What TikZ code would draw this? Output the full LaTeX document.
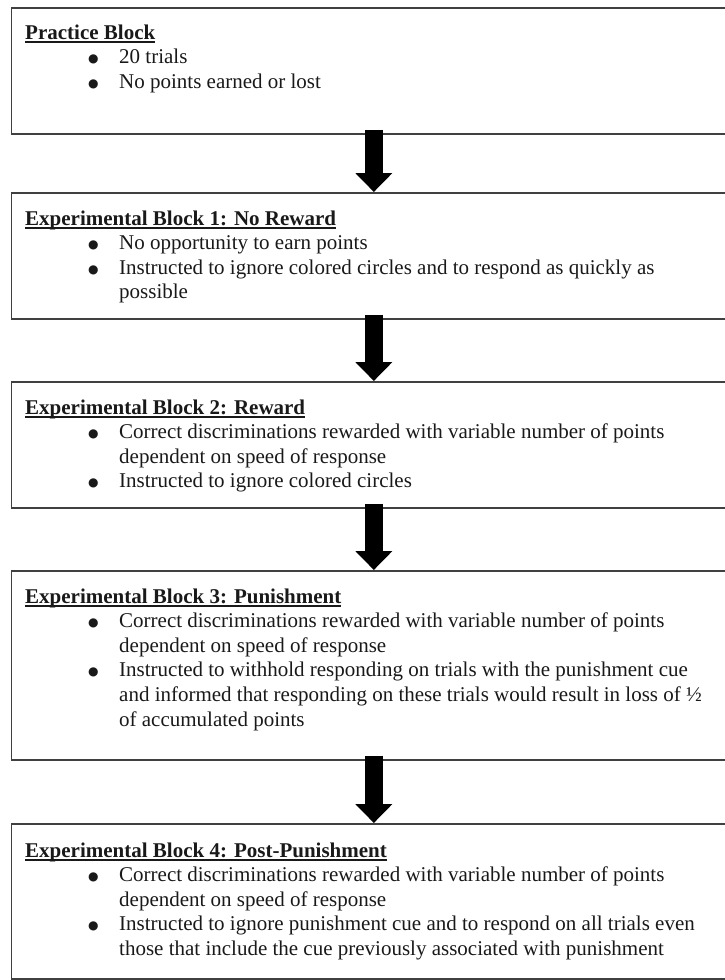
\documentclass[tikz,border=0pt]{standalone}
\usepackage{fontspec}
\setmainfont{Liberation Serif}
\newfontfamily\symb{DejaVu Sans}
\usetikzlibrary{arrows.meta}

\newsavebox{\boitetitre}
\newcommand{\titre}[1]{\sbox{\boitetitre}{\textbf{#1}}\usebox{\boitetitre}\llap{\rule[-3.6pt]{\wd\boitetitre}{1.4pt}}}
\newcommand{\puce}{\makebox[94pt][l]{\hspace{63pt}\raisebox{1.2pt}{\symb\fontsize{12}{12}\selectfont ●}}}
\newcommand{\suite}{\hspace*{94pt}}

\begin{document}
\begin{tikzpicture}[x=1pt,y=-1pt]
\tikzset{bloc/.style={draw=black!75, line width=1.7pt, rectangle, anchor=north west, minimum width=724.6pt, inner sep=0pt}}
\tikzset{contenu/.style={anchor=base west, inner sep=0pt, text=black!90, font=\fontsize{21}{24.6}\selectfont}}
\tikzset{fleche/.style={line width=17.5pt, shorten <=-5pt, -{Triangle[width=36pt,length=19pt]}}}
\useasboundingbox (0,0) rectangle (725,980);
\clip (0,0) rectangle (725,980);
\node[bloc, minimum height=126pt] (B1) at (10.7,7) {};
\node[bloc, minimum height=126pt] (B2) at (10.7,192) {};
\node[bloc, minimum height=126pt] (B3) at (10.7,381) {};
\node[bloc, minimum height=189pt] (B4) at (10.7,570) {};
\node[bloc, minimum height=155pt] (B5) at (10.7,823) {};
\node[contenu] (T1) at (25,39) {\parbox[t]{720pt}{\raggedright
\titre{Practice Block}\\
\puce 20 trials\\
\puce No points earned or lost}};
\node[contenu] (T2) at (25,225) {\parbox[t]{720pt}{\raggedright
\titre{Experimental Block 1: No Reward}\\
\puce No opportunity to earn points\\
\puce Instructed to ignore colored circles and to respond as quickly as\\
\suite possible}};
\node[contenu] (T3) at (25,414) {\parbox[t]{720pt}{\raggedright
\titre{Experimental Block 2: Reward}\\
\puce Correct discriminations rewarded with variable number of points\\
\suite dependent on speed of response\\
\puce Instructed to ignore colored circles}};
\node[contenu] (T4) at (25,603) {\parbox[t]{720pt}{\raggedright
\titre{Experimental Block 3: Punishment}\\
\puce Correct discriminations rewarded with variable number of points\\
\suite dependent on speed of response\\
\puce Instructed to withhold responding on trials with the punishment cue\\
\suite and informed that responding on these trials would result in loss of ½\\
\suite of accumulated points}};
\node[contenu] (T5) at (25,857) {\parbox[t]{720pt}{\raggedright
\titre{Experimental Block 4: Post-Punishment}\\
\puce Correct discriminations rewarded with variable number of points\\
\suite dependent on speed of response\\
\puce Instructed to ignore punishment cue and to respond on all trials even\\
\suite those that include the cue previously associated with punishment}};
\draw[fleche] (B1) -- (B2);
\draw[fleche] (B2) -- (B3);
\draw[fleche] (B3) -- (B4);
\draw[fleche] (B4) -- (B5);
\end{tikzpicture}
\end{document}
